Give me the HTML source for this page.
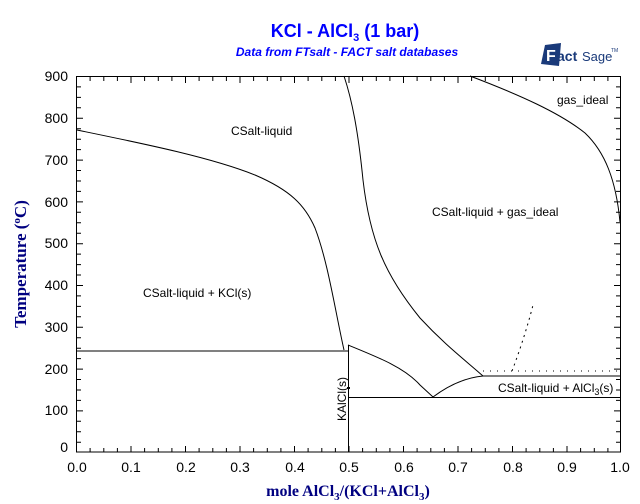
<!DOCTYPE html>
<html><head><meta charset="utf-8"><style>
body{margin:0;background:#fff;}
svg{display:block;}
</style></head><body>
<svg width="640" height="504" xmlns="http://www.w3.org/2000/svg" font-family="Liberation Sans, sans-serif">
<rect width="640" height="504" fill="#fff"/>
<text x="345" y="37" text-anchor="middle" font-size="18" font-weight="bold" fill="#0000ff">KCl - AlCl<tspan font-size="11" dy="4">3</tspan><tspan dy="-4"> (1 bar)</tspan></text>
<text x="347" y="56" text-anchor="middle" font-size="12" font-weight="bold" font-style="italic" fill="#0000ff">Data from FTsalt - FACT salt databases</text>
<!-- logo -->
<g>
<polygon points="545,45 561,43 559,66 541,64" fill="#1a3a7a"/>
<text x="546" y="61" font-size="16" font-weight="bold" fill="#fff">F</text>
<text x="557" y="61" font-size="14" font-weight="bold" fill="#1a3a7a">act</text>
<text x="582" y="61" font-size="13" fill="#1a3a7a" font-family="Liberation Sans Narrow, Liberation Sans, sans-serif">Sage</text>
<text x="611" y="52" font-size="5" fill="#1a3a7a">TM</text>
</g>
<rect x="76.5" y="76.5" width="544" height="375.5" fill="none" stroke="#000" stroke-width="1"/>
<g stroke="#000" stroke-width="1">
<path d="
M90.1,452v-4M103.8,452v-4M117.4,452v-4M131,452v-6M144.6,452v-4M158.3,452v-4M171.9,452v-4M185.5,452v-6M199.1,452v-4M212.8,452v-4M226.4,452v-4M240,452v-6M253.6,452v-4M267.3,452v-4M280.9,452v-4M294.5,452v-6M308.1,452v-4M321.8,452v-4M335.4,452v-4M349,452v-6M362.6,452v-4M376.3,452v-4M389.9,452v-4M403.5,452v-6M417.1,452v-4M430.8,452v-4M444.4,452v-4M458,452v-6M471.6,452v-4M485.3,452v-4M498.9,452v-4M512.5,452v-6M526.1,452v-4M539.8,452v-4M553.4,452v-4M567,452v-6M580.6,452v-4M594.3,452v-4M607.9,452v-4
M90.1,77v4M103.8,77v4M117.4,77v4M131,77v6M144.6,77v4M158.3,77v4M171.9,77v4M185.5,77v6M199.1,77v4M212.8,77v4M226.4,77v4M240,77v6M253.6,77v4M267.3,77v4M280.9,77v4M294.5,77v6M308.1,77v4M321.8,77v4M335.4,77v4M349,77v6M362.6,77v4M376.3,77v4M389.9,77v4M403.5,77v6M417.1,77v4M430.8,77v4M444.4,77v4M458,77v6M471.6,77v4M485.3,77v4M498.9,77v4M512.5,77v6M526.1,77v4M539.8,77v4M553.4,77v4M567,77v6M580.6,77v4M594.3,77v4M607.9,77v4
"/>
<path d="
M77,86.9h4M77,97.4h4M77,107.8h4M77,118.3h6M77,128.7h4M77,139.2h4M77,149.6h4M77,160.1h6M77,170.5h4M77,181h4M77,191.4h4M77,201.9h6M77,212.3h4M77,222.8h4M77,233.2h4M77,243.7h6M77,254.1h4M77,264.6h4M77,275h4M77,285.5h6M77,295.9h4M77,306.4h4M77,316.8h4M77,327.3h6M77,337.7h4M77,348.2h4M77,358.6h4M77,369.1h6M77,379.5h4M77,390h4M77,400.4h4M77,410.9h6M77,421.3h4M77,431.8h4M77,442.2h4
M620,86.9h-4M620,97.4h-4M620,107.8h-4M620,118.3h-6M620,128.7h-4M620,139.2h-4M620,149.6h-4M620,160.1h-6M620,170.5h-4M620,181h-4M620,191.4h-4M620,201.9h-6M620,212.3h-4M620,222.8h-4M620,233.2h-4M620,243.7h-6M620,254.1h-4M620,264.6h-4M620,275h-4M620,285.5h-6M620,295.9h-4M620,306.4h-4M620,316.8h-4M620,327.3h-6M620,337.7h-4M620,348.2h-4M620,358.6h-4M620,369.1h-6M620,379.5h-4M620,390h-4M620,400.4h-4M620,410.9h-6M620,421.3h-4M620,431.8h-4M620,442.2h-4
"/>
</g>
<g font-size="14" fill="#000" text-anchor="end">
<text x="68" y="81">900</text><text x="68" y="123">800</text><text x="68" y="165">700</text><text x="68" y="207">600</text><text x="68" y="248">500</text><text x="68" y="290">400</text><text x="68" y="332">300</text><text x="68" y="374">200</text><text x="68" y="415">100</text><text x="68" y="452">0</text>
</g>
<g font-size="14" fill="#000" text-anchor="middle">
<text x="77" y="472">0.0</text><text x="131" y="472">0.1</text><text x="186" y="472">0.2</text><text x="240" y="472">0.3</text><text x="295" y="472">0.4</text><text x="349" y="472">0.5</text><text x="404" y="472">0.6</text><text x="458" y="472">0.7</text><text x="513" y="472">0.8</text><text x="567" y="472">0.9</text><text x="620" y="472">1.0</text>
</g>
<text x="348" y="496" text-anchor="middle" font-family="Liberation Serif, serif" font-weight="bold" font-size="16" fill="#000080">mole AlCl<tspan font-size="11" dy="4">3</tspan><tspan dy="-4">/(KCl+AlCl</tspan><tspan font-size="11" dy="4">3</tspan><tspan dy="-4">)</tspan></text>
<text transform="translate(26,264) rotate(-90)" text-anchor="middle" font-family="Liberation Serif, serif" font-weight="bold" font-size="17" fill="#000080">Temperature (<tspan font-size="11" dy="-6">o</tspan><tspan dy="6">C)</tspan></text>
<g fill="none" stroke="#000" stroke-width="1">
<path d="M77,130 C140,143 210,157 255,175 C290,190 305,205 315,228 C328,262 335,310 344,350"/>
<path d="M77,351 H348"/>
<path d="M348.5,345 V452"/>
<path d="M348,345 C380,358 405,368 420,385 L433,397 C445,388 462,378 483,376"/>
<path d="M348,397.5 H621"/>
<path d="M483,376 H621"/>
<path d="M344,76 C352,100 358,130 363,180 C370,240 385,275 420,318 C445,345 465,360 483,376"/>
<path d="M470,76 C520,95 560,113 585,133 C605,152 616,180 620,222"/>
<path d="M483,371 H621" stroke-dasharray="1,6"/>
<path d="M512,371 C520,350 528,325 533,305" stroke-dasharray="2,4"/>
</g>
<rect x="347" y="387" width="3" height="2" fill="#000"/>
<g font-size="12" fill="#000">
<text x="231" y="135">CSalt-liquid</text>
<text x="143" y="297">CSalt-liquid + KCl(s)</text>
<text x="432" y="216">CSalt-liquid + gas_ideal</text>
<text x="557" y="104">gas_ideal</text>
<text x="498" y="392">CSalt-liquid + AlCl<tspan font-size="9" dy="3">3</tspan><tspan dy="-3">(s)</tspan></text>
<text transform="translate(346,421) rotate(-90)">KAlCl(s)</text>
</g>
</svg>
</body></html>
